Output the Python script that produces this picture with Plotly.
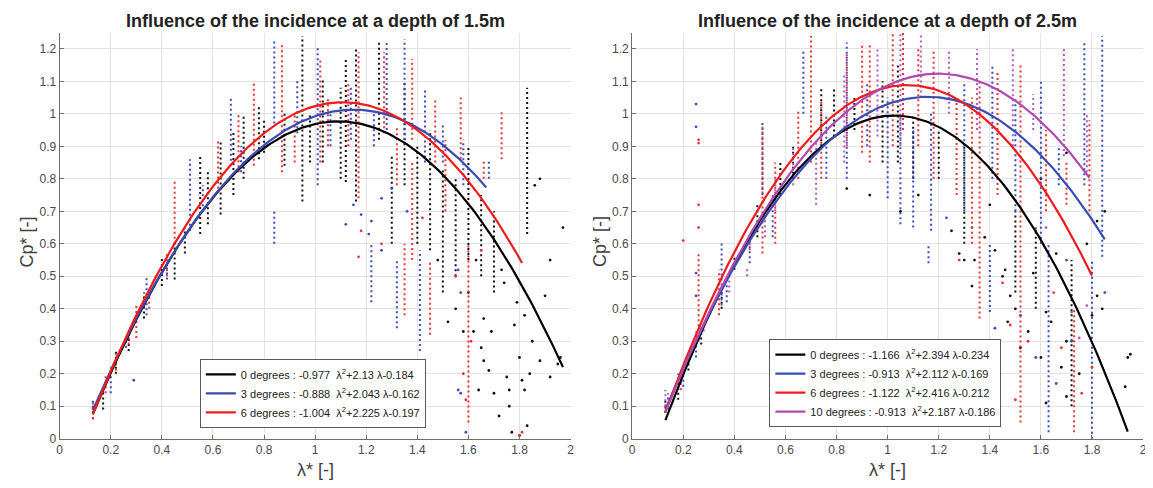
import numpy as np
import plotly.graph_objects as go

# ---------------- data ----------------
xticks = [0, 0.2, 0.4, 0.6, 0.8, 1, 1.2, 1.4, 1.6, 1.8, 2]
xtick_text = ["0", "0.2", "0.4", "0.6", "0.8", "1", "1.2", "1.4", "1.6", "1.8", "2"]
yticks = [0, 0.1, 0.2, 0.3, 0.4, 0.5, 0.6, 0.7, 0.8, 0.9, 1, 1.1, 1.2]
ytick_text = ["0", "0.1", "0.2", "0.3", "0.4", "0.5", "0.6", "0.7", "0.8", "0.9", "1", "1.1", "1.2"]

titles = ["Influence of the incidence at a depth of 1.5m",
          "Influence of the incidence at a depth of 2.5m"]

# fit coefficients (a, b, c) for a*l^2 + b*l + c, and lambda range of each fit
p1_labels = ["0 degrees", "3 degrees", "6 degrees"]
p1_coef = [(-0.977, 2.13, -0.184), (-0.888, 2.043, -0.162), (-1.004, 2.225, -0.197)]
p1_range = [(0.13, 1.97), (0.13, 1.67), (0.13, 1.81)]

p2_labels = ["0 degrees", "3 degrees", "6 degrees", "10 degrees"]
p2_coef = [(-1.166, 2.394, -0.234), (-0.913, 2.112, -0.169), (-1.122, 2.416, -0.212), (-0.913, 2.187, -0.186)]
p2_range = [(0.13, 1.94), (0.13, 1.85), (0.13, 1.80), (0.13, 1.79)]

# measurement streaks: lambda, Cp low, Cp high
p1_black_sx = [0.13, 0.17, 0.22, 0.27, 0.33, 0.40, 0.45, 0.49, 0.55, 0.58, 0.63, 0.68, 0.72, 0.78, 0.80, 0.88, 0.95, 0.98, 1.03, 1.10, 1.12, 1.16, 1.25, 1.30, 1.35, 1.40, 1.45, 1.50, 1.55, 1.60, 1.65, 1.70, 1.83]
p1_black_lo = [0.06, 0.09, 0.20, 0.27, 0.37, 0.47, 0.49, 0.57, 0.63, 0.66, 0.69, 0.75, 0.80, 0.86, 0.88, 0.84, 0.73, 0.85, 0.85, 0.80, 0.79, 0.73, 0.92, 0.60, 0.78, 0.60, 0.58, 0.45, 0.50, 0.55, 0.50, 0.45, 0.63]
p1_black_hi = [0.11, 0.16, 0.27, 0.33, 0.45, 0.56, 0.61, 0.65, 0.87, 0.82, 0.92, 0.95, 1.00, 1.02, 0.98, 1.00, 1.24, 1.00, 1.11, 1.08, 1.17, 1.20, 1.22, 0.87, 1.10, 0.90, 0.95, 0.83, 0.80, 0.90, 0.75, 0.70, 1.08]
p1_black_px = [1.60, 1.62, 1.65, 1.68, 1.70, 1.72, 1.75, 1.76, 1.77, 1.78, 1.80, 1.81, 1.82, 1.83, 1.85, 1.88, 1.90, 1.92, 1.96, 1.74, 1.79, 1.66, 1.63, 1.86, 1.88, 1.92, 1.97, 1.55, 1.52, 1.48, 1.58, 1.69, 1.73, 1.82, 1.80, 1.76, 1.84, 1.64, 1.66, 1.95]
p1_black_py = [0.45, 0.33, 0.28, 0.21, 0.14, 0.07, 0.19, 0.10, 0.02, 0.35, 0.25, 0.18, 0.38, 0.04, 0.30, 0.24, 0.44, 0.19, 0.25, 0.48, 0.42, 0.37, 0.55, 0.78, 0.80, 0.55, 0.65, 0.40, 0.36, 0.55, 0.33, 0.33, 0.52, 0.15, 0.01, 0.15, 0.20, 0.15, 0.24, 0.23]

p1_blue_sx = [0.13, 0.20, 0.26, 0.34, 0.42, 0.51, 0.56, 0.67, 0.71, 0.84, 0.84, 0.93, 1.01, 1.06, 1.14, 1.23, 1.28, 1.35, 1.43, 1.50, 1.58, 1.68, 1.22, 1.32, 1.41]
p1_blue_lo = [0.08, 0.14, 0.28, 0.38, 0.49, 0.64, 0.70, 0.84, 0.82, 0.97, 0.60, 0.94, 0.78, 0.90, 0.92, 0.90, 0.95, 0.92, 0.85, 0.85, 0.78, 0.80, 0.42, 0.34, 0.27]
p1_blue_hi = [0.12, 0.22, 0.31, 0.50, 0.55, 0.86, 0.78, 1.05, 0.90, 1.23, 0.70, 1.10, 1.21, 1.00, 1.08, 1.00, 1.22, 1.23, 1.08, 0.97, 0.92, 0.86, 0.60, 0.55, 0.58]
p1_blue_px = [1.21, 1.22, 1.26, 1.30, 1.56, 1.57, 1.59, 1.26, 0.29, 1.12, 1.18, 1.36, 1.15, 1.57, 1.56]
p1_blue_py = [0.63, 0.67, 0.74, 0.77, 0.15, 0.14, 0.02, 0.58, 0.18, 0.66, 0.69, 0.70, 0.72, 0.45, 0.52]

p1_red_sx = [0.13, 0.18, 0.22, 0.27, 0.30, 0.35, 0.42, 0.45, 0.62, 0.70, 0.76, 0.87, 0.92, 1.02, 1.05, 1.13, 1.17, 1.27, 1.32, 1.38, 1.38, 1.47, 1.51, 1.57, 1.66, 1.73, 1.35, 1.45, 1.60]
p1_red_lo = [0.06, 0.14, 0.21, 0.29, 0.31, 0.40, 0.50, 0.60, 0.77, 0.82, 0.84, 0.82, 0.85, 0.85, 0.90, 0.90, 0.74, 0.94, 0.78, 0.92, 0.55, 0.85, 0.70, 0.86, 0.80, 0.86, 0.38, 0.32, 0.05]
p1_red_hi = [0.12, 0.20, 0.26, 0.33, 0.41, 0.46, 0.57, 0.80, 0.92, 1.00, 1.10, 1.22, 1.00, 1.17, 1.05, 1.10, 1.19, 1.19, 0.96, 1.17, 0.85, 1.05, 0.92, 1.05, 0.86, 1.01, 0.60, 0.55, 0.60]
p1_red_px = [1.17, 1.18, 1.80, 1.81, 1.55, 1.58, 1.61, 1.59, 1.26, 1.42, 1.65]
p1_red_py = [0.56, 0.64, 0.01, 0.02, 0.50, 0.20, 0.30, 0.12, 0.60, 0.68, 0.58]

p2_black_sx = [0.13, 0.18, 0.22, 0.27, 0.35, 0.40, 0.49, 0.58, 0.63, 0.74, 0.79, 0.87, 0.98, 1.04, 1.10, 1.20, 1.30, 1.50, 1.58, 1.72]
p2_black_lo = [0.08, 0.12, 0.21, 0.29, 0.40, 0.52, 0.62, 0.75, 0.80, 0.90, 0.93, 0.95, 0.85, 0.85, 0.80, 0.80, 0.60, 0.45, 0.40, 0.10]
p2_black_hi = [0.12, 0.20, 0.26, 0.35, 0.47, 0.56, 0.72, 0.85, 0.90, 1.08, 1.08, 1.05, 1.10, 1.15, 1.00, 0.95, 0.90, 0.70, 0.65, 0.55]
p2_black_px = [1.28, 1.30, 1.33, 1.38, 1.42, 1.45, 1.47, 1.48, 1.50, 1.52, 1.55, 1.57, 1.60, 1.62, 1.64, 1.66, 1.68, 1.70, 1.75, 1.78, 1.80, 1.82, 1.84, 1.85, 1.93, 1.94, 1.95, 1.12, 1.05, 0.93, 0.84, 1.25, 1.40, 1.60, 1.70, 1.82, 1.46, 1.62, 1.70, 1.34]
p2_black_py = [0.57, 0.55, 0.47, 0.62, 0.58, 0.50, 0.36, 0.44, 0.40, 0.28, 0.33, 0.51, 0.25, 0.39, 0.36, 0.57, 0.22, 0.30, 0.20, 0.60, 0.38, 0.44, 0.40, 0.70, 0.16, 0.25, 0.26, 0.75, 0.70, 0.75, 0.77, 0.64, 0.72, 0.80, 0.88, 0.67, 0.52, 0.11, 0.13, 0.55]

p2_blue_sx = [0.14, 0.20, 0.25, 0.35, 0.37, 0.46, 0.51, 0.55, 0.67, 0.76, 0.84, 0.92, 1.00, 1.05, 1.10, 1.17, 1.30, 1.41, 1.40, 1.50, 1.60, 1.63, 1.67, 1.77, 1.80, 1.84, 1.16]
p2_blue_lo = [0.09, 0.16, 0.25, 0.41, 0.42, 0.54, 0.75, 0.62, 1.00, 0.80, 0.80, 0.90, 0.74, 0.66, 0.65, 0.64, 0.70, 0.80, 0.39, 0.70, 0.60, 0.02, 0.78, 0.78, 0.00, 0.56, 0.54]
p2_blue_hi = [0.14, 0.22, 0.33, 0.61, 0.48, 0.61, 0.98, 0.75, 1.20, 1.00, 1.22, 1.10, 1.05, 1.00, 0.95, 1.00, 1.10, 1.15, 0.60, 1.05, 1.10, 0.60, 0.90, 1.22, 0.55, 1.24, 0.60]
p2_blue_px = [0.25, 0.25, 0.25, 0.25, 1.23, 1.33, 1.52, 1.58, 1.66, 1.72, 1.85, 1.42, 1.70]
p2_blue_py = [0.96, 1.03, 0.44, 0.51, 0.68, 0.65, 0.38, 0.25, 0.17, 0.30, 0.45, 0.34, 0.55]

p2_red_sx = [0.13, 0.19, 0.26, 0.34, 0.46, 0.51, 0.56, 0.65, 0.70, 0.74, 0.84, 0.90, 0.93, 1.02, 1.06, 1.12, 1.18, 1.27, 1.33, 1.36, 1.43, 1.52, 1.62, 1.70, 1.73, 1.79]
p2_red_lo = [0.08, 0.15, 0.30, 0.38, 0.58, 0.57, 0.60, 0.80, 0.85, 0.80, 0.90, 0.88, 0.85, 0.90, 0.95, 0.90, 0.80, 0.75, 0.60, 0.37, 0.75, 0.05, 0.70, 0.72, 0.02, 0.70]
p2_red_hi = [0.11, 0.20, 0.57, 0.52, 0.62, 0.96, 0.85, 1.01, 1.24, 1.04, 1.19, 1.22, 1.22, 1.25, 1.25, 1.20, 1.20, 1.05, 1.05, 1.10, 1.13, 1.15, 0.95, 0.85, 0.40, 0.98]
p2_red_px = [0.26, 0.26, 0.26, 0.26, 0.20, 1.28, 1.45, 1.48, 1.50, 1.55, 1.65, 1.68, 1.76, 1.80, 1.58]
p2_red_py = [0.91, 0.92, 0.72, 0.65, 0.61, 0.55, 0.48, 0.35, 0.12, 0.30, 0.45, 0.28, 0.14, 0.22, 0.64]

p2_purple_sx = [0.13, 0.19, 0.28, 0.38, 0.45, 0.52, 0.56, 0.63, 0.72, 0.83, 0.96, 1.05, 1.13, 1.24, 1.35, 1.49, 1.57, 1.69, 1.78]
p2_purple_lo = [0.10, 0.17, 0.33, 0.45, 0.50, 0.62, 0.70, 0.78, 0.72, 0.85, 0.93, 0.90, 1.05, 1.00, 0.95, 0.90, 0.95, 0.87, 0.82]
p2_purple_hi = [0.15, 0.21, 0.36, 0.50, 0.53, 0.70, 0.80, 0.90, 0.92, 1.12, 1.20, 1.25, 1.25, 1.20, 1.20, 1.20, 1.06, 1.20, 1.00]
p2_purple_px = [1.72, 1.78, 1.75, 1.62]
p2_purple_py = [0.39, 0.41, 0.31, 0.65]

# ---------------- style ----------------
FONT = "Arial, Liberation Sans, sans-serif"
W, H = 1153, 488
COL_LINE = {"black": "#000000", "blue": "#3a4cb1", "red": "#f01c1c", "purple": "#b04aae"}
COL_DOT = {"black": "#111111", "blue": "#3a4cc4", "red": "#f03232", "purple": "#b25ac0"}

# plot areas in pixels
left_px = [(49, 563), (625, 1139)]
top_px, bot_px = 25, 437

fig = go.Figure()


def seg(sx, lo, hi):
    xs, ys = [], []
    for x, a, b in zip(sx, lo, hi):
        xs += [x, x, None]
        ys += [a, b, None]
    return xs, ys


def add_data(ax, color, sx, lo, hi, px, py):
    xa = "x" if ax == 1 else "x2"
    ya = "y" if ax == 1 else "y2"
    xs, ys = seg(sx, lo, hi)
    fig.add_trace(go.Scatter(x=xs, y=ys, mode="lines", xaxis=xa, yaxis=ya,
                             line=dict(color=COL_DOT[color], width=2, dash="2px,3px"),
                             showlegend=False, hoverinfo="skip"))
    fig.add_trace(go.Scatter(x=px, y=py, mode="markers", xaxis=xa, yaxis=ya,
                             marker=dict(color=COL_DOT[color], size=2.8),
                             showlegend=False, hoverinfo="skip"))


add_data(1, "black", p1_black_sx, p1_black_lo, p1_black_hi, p1_black_px, p1_black_py)
add_data(1, "blue", p1_blue_sx, p1_blue_lo, p1_blue_hi, p1_blue_px, p1_blue_py)
add_data(1, "red", p1_red_sx, p1_red_lo, p1_red_hi, p1_red_px, p1_red_py)
add_data(2, "black", p2_black_sx, p2_black_lo, p2_black_hi, p2_black_px, p2_black_py)
add_data(2, "blue", p2_blue_sx, p2_blue_lo, p2_blue_hi, p2_blue_px, p2_blue_py)
add_data(2, "red", p2_red_sx, p2_red_lo, p2_red_hi, p2_red_px, p2_red_py)
add_data(2, "purple", p2_purple_sx, p2_purple_lo, p2_purple_hi, p2_purple_px, p2_purple_py)


def fmt(v):
    return ("%g" % v)


def add_fits(ax, labels, coefs, ranges, colors, legend):
    xa = "x" if ax == 1 else "x2"
    ya = "y" if ax == 1 else "y2"
    for lab, (a, b, c), (l0, l1), col in zip(labels, coefs, ranges, colors):
        lam = np.linspace(l0, l1, 200)
        cp = a * lam ** 2 + b * lam + c
        name = "%s : %s  \u03bb<sup>2</sup>+%s \u03bb%s" % (lab, fmt(a), fmt(b), fmt(c))
        fig.add_trace(go.Scatter(x=lam, y=cp, mode="lines", xaxis=xa, yaxis=ya,
                                 line=dict(color=COL_LINE[col], width=2.2),
                                 name=name, legend=legend, hoverinfo="skip"))


add_fits(1, p1_labels, p1_coef, p1_range, ["black", "blue", "red"], "legend")
add_fits(2, p2_labels, p2_coef, p2_range, ["black", "blue", "red", "purple"], "legend2")

ydom = [(H - bot_px) / H, (H - top_px) / H]
axis_common = dict(range=[0, 2], tickvals=xticks, ticktext=xtick_text,
                   showgrid=True, gridcolor="#e3e3e3", gridwidth=1,
                   showline=True, linecolor="#6e6e6e", linewidth=1,
                   ticks="inside", ticklen=4, tickcolor="#6e6e6e",
                   tickfont=dict(family=FONT, size=12, color="#4a4a4a"),
                   ticklabeloverflow="allow",
                   zeroline=False, mirror=False)
yaxis_common = dict(range=[0, 1.25], tickvals=yticks, ticktext=ytick_text,
                    showgrid=True, gridcolor="#e3e3e3", gridwidth=1,
                    showline=True, linecolor="#6e6e6e", linewidth=1,
                    ticks="inside", ticklen=4, tickcolor="#6e6e6e",
                    tickfont=dict(family=FONT, size=12, color="#4a4a4a"),
                    ticklabeloverflow="allow",
                    zeroline=False, mirror=False)

legend_common = dict(xanchor="left", yanchor="top", bgcolor="white",
                     bordercolor="#5a5a5a", borderwidth=1,
                     font=dict(family=FONT, size=11, color="#222222"),
                     tracegroupgap=0, itemwidth=30)

fig.update_layout(
    width=W, height=H,
    margin=dict(l=0, r=0, t=0, b=0),
    paper_bgcolor="white", plot_bgcolor="white",
    showlegend=True,
    xaxis=dict(domain=[left_px[0][0] / W, left_px[0][1] / W], anchor="y", **axis_common),
    yaxis=dict(domain=ydom, anchor="x", **yaxis_common),
    xaxis2=dict(domain=[left_px[1][0] / W, left_px[1][1] / W], anchor="y2", **axis_common),
    yaxis2=dict(domain=ydom, anchor="x2", **yaxis_common),
    legend=dict(x=190 / W, y=(H - 356) / H, **legend_common),
    legend2=dict(x=763 / W, y=(H - 336) / H, **legend_common),
)

annots = []
for i, (l, r) in enumerate(left_px):
    cx = (l + r) / 2 / W
    annots.append(dict(text="<b>%s</b>" % titles[i], x=cx, y=(H - 13) / H, xref="paper", yref="paper",
                       showarrow=False, xanchor="center", yanchor="middle",
                       font=dict(family=FONT, size=18, color="#222222")))
    annots.append(dict(text="\u03bb* [-]", x=cx, y=(H - 469) / H, xref="paper", yref="paper",
                       showarrow=False, xanchor="center", yanchor="middle",
                       font=dict(family=FONT, size=18, color="#404040")))
    annots.append(dict(text="Cp* [-]", x=(l - 33) / W, y=(H - 237) / H, xref="paper", yref="paper",
                       showarrow=False, xanchor="center", yanchor="middle", textangle=-90,
                       font=dict(family=FONT, size=18, color="#404040")))
fig.update_layout(annotations=annots)

fig.write_html("out.html")
